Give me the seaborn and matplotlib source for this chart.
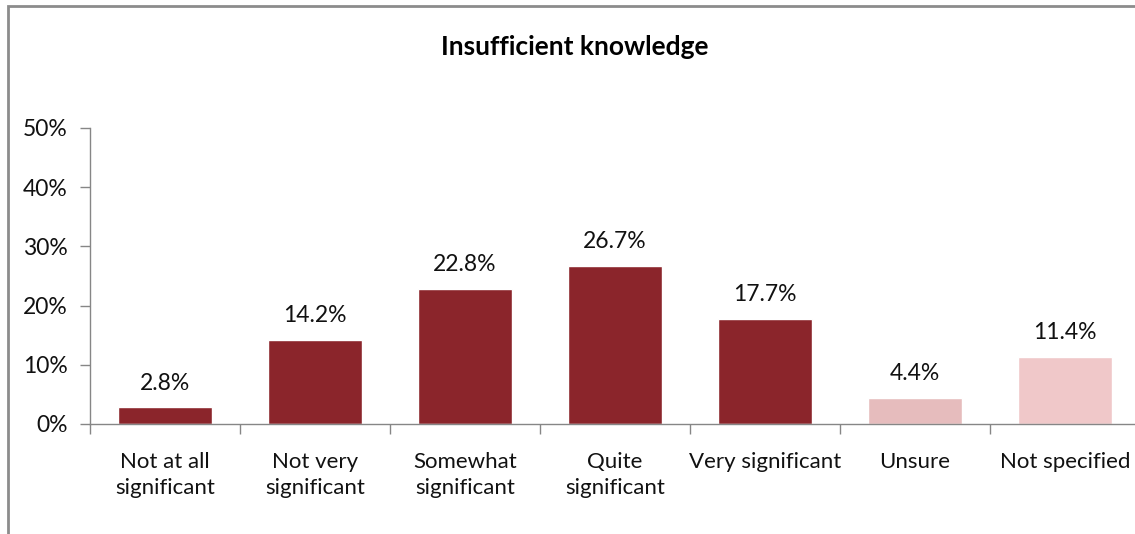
import matplotlib
matplotlib.use("Agg")
import matplotlib.pyplot as plt
from matplotlib.patches import Rectangle
from matplotlib.ticker import FixedLocator, PercentFormatter
import seaborn as sns

categories = ["Not at all\nsignificant", "Not very\nsignificant", "Somewhat\nsignificant",
              "Quite\nsignificant", "Very significant", "Unsure", "Not specified"]
values = [2.8, 14.2, 22.8, 26.7, 17.7, 4.4, 11.4]
bar_colors = ["#8B252B", "#8B252B", "#8B252B", "#8B252B", "#8B252B", "#E6BCBD", "#F0C8C9"]
title = "Insufficient knowledge"

sns.set_style("white")
plt.rcParams['font.family'] = ['Lato', 'DejaVu Sans']

fig = plt.figure(figsize=(11.35, 5.34), dpi=100)
ax = fig.add_axes([90 / 1135, 1 - 424 / 534, 1050 / 1135, 296 / 534])

sns.barplot(x=categories, y=values, hue=categories, palette=bar_colors,
            legend=False, width=0.63, saturation=1, ax=ax)

for cont in ax.containers:
    ax.bar_label(cont, fmt="%.1f%%", padding=10, fontsize=16.5, color="#111111")

ax.set_xlim(-0.5, len(categories) - 0.5)
ax.set_ylim(0, 50)
ax.yaxis.set_major_locator(FixedLocator([0, 10, 20, 30, 40, 50]))
ax.yaxis.set_major_formatter(PercentFormatter(decimals=0))
ax.tick_params(axis="y", labelsize=16.5, length=7, width=1, color="#868686",
               direction="out", left=True, pad=9, labelcolor="#111111")
ax.tick_params(axis="x", labelsize=16, length=0, pad=20, labelcolor="#111111")
ax.xaxis.set_minor_locator(FixedLocator([i - 0.5 for i in range(len(categories) + 1)]))
ax.tick_params(axis="x", which="minor", length=7, width=1, color="#868686",
               direction="out", bottom=True)
for lab in ax.get_xticklabels():
    lab.set_linespacing(1.42)
    lab.set_verticalalignment("top")

for side in ["top", "right"]:
    ax.spines[side].set_visible(False)
for side in ["left", "bottom"]:
    ax.spines[side].set_color("#868686")
    ax.spines[side].set_linewidth(1)
ax.set_xlabel("")
ax.set_ylabel("")

fig.text(575 / 1135, 1 - 47 / 534, title, ha="center", va="center",
         fontsize=19, fontweight="bold", color="#000000")

fig.patches.append(Rectangle((8 / 1135, -0.2), 1.2, 1 - 6 / 534 + 0.2,
                             transform=fig.transFigure, fill=False,
                             edgecolor="#8c8c8c", linewidth=2))

fig.savefig("out.png", dpi=100)
